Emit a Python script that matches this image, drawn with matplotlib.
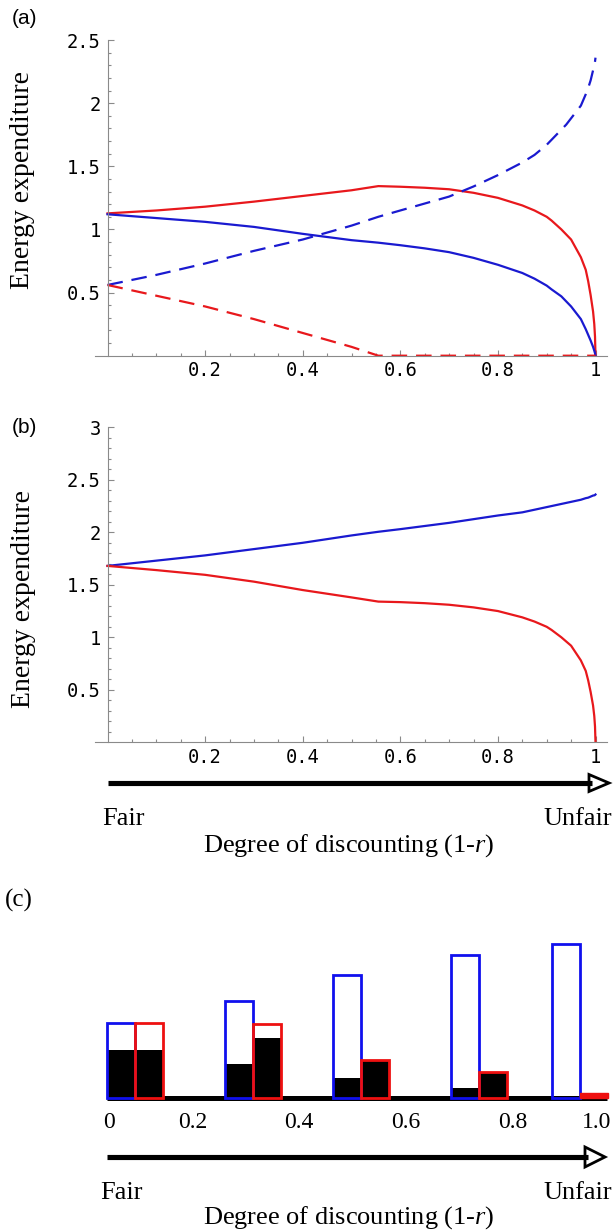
import numpy as np
import matplotlib
matplotlib.use("Agg")
import matplotlib.pyplot as plt
import matplotlib.transforms as mtransforms
from matplotlib.lines import Line2D
from matplotlib.patches import Polygon

plt.rcParams['mathtext.fontset'] = 'custom'
plt.rcParams['mathtext.rm'] = 'Liberation Serif'
plt.rcParams['mathtext.it'] = 'Liberation Serif:italic'

# ---------------- data ----------------
x = [0, 0.1, 0.2, 0.3, 0.4, 0.5, 0.555, 0.6, 0.65, 0.7, 0.75, 0.8, 0.85, 0.875,
     0.9, 0.91, 0.93, 0.94, 0.95, 0.96, 0.97, 0.98, 0.985, 0.99, 0.995, 0.9975,
     0.999, 1.0]

# panel (a)
a_red_solid = [1.127, 1.15, 1.18, 1.22, 1.265, 1.31, 1.343, 1.338, 1.33, 1.318, 1.29,
               1.25, 1.19, 1.15, 1.10, 1.07, 1.00, 0.96, 0.92, 0.85, 0.78, 0.68,
               0.59, 0.48, 0.35, 0.25, 0.15, 0.0]
a_blue_solid = [1.12, 1.09, 1.06, 1.02, 0.965, 0.915, 0.895, 0.875, 0.85, 0.82, 0.775,
                0.72, 0.655, 0.61, 0.555, 0.525, 0.47, 0.43, 0.39, 0.34, 0.29, 0.21,
                0.165, 0.12, 0.07, 0.04, 0.02, 0.0]
a_blue_dashed = [0.56, 0.64, 0.73, 0.83, 0.92, 1.03, 1.10, 1.15, 1.205, 1.26, 1.34,
                 1.43, 1.53, 1.59, 1.67, 1.71, 1.79, 1.83, 1.88, 1.93, 1.98, 2.07,
                 2.12, 2.18, 2.26, 2.30, 2.33, 2.36]
a_red_dashed = [0.56, 0.475, 0.39, 0.29, 0.18, 0.07, 0.0, 0.0, 0.0, 0.0, 0.0,
                0.0, 0.0, 0.0, 0.0, 0.0, 0.0, 0.0, 0.0, 0.0, 0.0, 0.0,
                0.0, 0.0, 0.0, 0.0, 0.0, 0.0]

# panel (b)
b_blue = [1.68, 1.73, 1.78, 1.84, 1.90, 1.97, 2.005, 2.03, 2.06, 2.09, 2.125,
          2.16, 2.19, 2.215, 2.24, 2.25, 2.27, 2.28, 2.29, 2.30, 2.31, 2.325,
          2.33, 2.34, 2.35, 2.352, 2.355, 2.36]
b_red = [1.68, 1.64, 1.595, 1.53, 1.45, 1.38, 1.34, 1.335, 1.325, 1.31, 1.285,
         1.25, 1.19, 1.15, 1.10, 1.07, 1.00, 0.96, 0.92, 0.85, 0.78, 0.68,
         0.59, 0.48, 0.35, 0.25, 0.15, 0.0]

ab_xticks = [0.2, 0.4, 0.6, 0.8, 1.0]
ab_xticklabels = ['0.2', '0.4', '0.6', '0.8', '1']
a_yticks = [0.5, 1, 1.5, 2, 2.5]
a_yticklabels = ['0.5', '1', '1.5', '2', '2.5']
b_yticks = [0.5, 1, 1.5, 2, 2.5, 3]
b_yticklabels = ['0.5', '1', '1.5', '2', '2.5', '3']

# panel (c)
c_group_x = [0.0, 0.235, 0.452, 0.687, 0.89]
c_blue_total = [1.69, 2.19, 2.77, 3.22, 3.47]
c_blue_black = [1.08, 0.77, 0.45, 0.23, 0.05]
c_red_total = [1.69, 1.67, 0.86, 0.59, 0.11]
c_red_black = [1.08, 1.35, 0.86, 0.59, 0.0]
c_tick_pos = [0.003, 0.171, 0.384, 0.598, 0.812, 0.98]
c_tick_labels = ['0', '0.2', '0.4', '0.6', '0.8', '1.0']

# ---------------- figure ----------------
W, H = 615, 1232
fig = plt.figure(figsize=(W / 100, H / 100), dpi=100)
fig.patch.set_facecolor('white')


def fx(px):
    return px / W


def fy(py):
    return 1 - py / H


RED = '#e8181c'
BLUE = '#1a1ad0'
AXC = '#8a8a8a'
SERIF = 'Liberation Serif'
MONO = 'DejaVu Sans Mono'

x0px, x1px = 107.5, 595.5
ppu = x1px - x0px
left_px, right_px = 95, 607
xlim = ((left_px - x0px) / ppu, (right_px - x0px) / ppu)


def style_axes(ax, yt, ytl):
    for s in ['top', 'right']:
        ax.spines[s].set_visible(False)
    ax.spines['left'].set_position(('data', 0))
    for s in ['left', 'bottom']:
        ax.spines[s].set_color(AXC)
        ax.spines[s].set_linewidth(0.8)
    ax.set_xlim(*xlim)
    ax.set_xticks(ab_xticks)
    ax.set_xticklabels(ab_xticklabels)
    ax.set_xticks(np.arange(0.05, 1.0001, 0.05), minor=True)
    ax.set_yticks(yt)
    ax.set_yticklabels(ytl)
    ax.set_yticks(np.arange(0.1, yt[-1] + 0.001, 0.1), minor=True)
    ax.tick_params(which='both', direction='in', color=AXC, width=0.8)
    ax.tick_params(which='major', length=4.5)
    ax.tick_params(which='minor', length=2.5)
    ax.tick_params(axis='x', pad=4)
    ax.tick_params(axis='y', pad=5)
    for lab in ax.get_xticklabels() + ax.get_yticklabels():
        lab.set_fontfamily(MONO)
        lab.set_fontsize(13.5)
    ax.patch.set_alpha(0)


# panel (a)
ax_a = fig.add_axes([fx(left_px), fy(355.7), (right_px - left_px) / W, (355.7 - 40) / H])
ax_a.plot(x, a_red_solid, color=RED, lw=1.6)
ax_a.plot(x, a_blue_solid, color=BLUE, lw=1.6)
ax_a.plot(x, a_blue_dashed, color=BLUE, lw=1.6, dashes=(7, 4))
ax_a.plot(x, a_red_dashed, color=RED, lw=1.6, dashes=(7, 4))
ax_a.set_ylim(0, 2.5)
style_axes(ax_a, a_yticks, a_yticklabels)

# panel (b)
ax_b = fig.add_axes([fx(left_px), fy(742.3), (right_px - left_px) / W, (742.3 - 427.3) / H])
ax_b.plot(x, b_blue, color=BLUE, lw=1.6)
ax_b.plot(x, b_red, color=RED, lw=1.6)
ax_b.set_ylim(0, 3)
style_axes(ax_b, b_yticks, b_yticklabels)

# panel labels and y labels
fig.text(fx(12), fy(19), '(a)', family='Liberation Sans', fontsize=15, ha='left', va='center')
fig.text(fx(12), fy(427), '(b)', family='Liberation Sans', fontsize=15, ha='left', va='center')
fig.text(fx(5), fy(900), '(c)', family=SERIF, fontsize=18, ha='left', va='center')
fig.text(fx(23), fy(180), 'Energy expenditure', family=SERIF, fontsize=20,
         rotation=90, ha='center', va='center')
fig.text(fx(24), fy(599), 'Energy expenditure', family=SERIF, fontsize=20,
         rotation=90, ha='center', va='center')


def fair_arrow(y, xs, head_l, head_tip, head_h):
    fig.add_artist(Line2D([fx(xs), fx(head_l + 3)], [fy(y), fy(y)], color='black',
                          lw=3.7, solid_capstyle='butt', transform=fig.transFigure))
    fig.add_artist(Polygon([[fx(head_l), fy(y - head_h)], [fx(head_l), fy(y + head_h)],
                            [fx(head_tip), fy(y)]], closed=True, facecolor='white',
                           edgecolor='black', lw=2, joinstyle='miter',
                           transform=fig.transFigure))


label_text = r'Degree of discounting (1-$\mathit{r}$)'

fair_arrow(783, 108, 589, 609, 8.5)
fig.text(fx(102), fy(819), 'Fair', family=SERIF, fontsize=19, ha='left', va='center')
fig.text(fx(612), fy(819), 'Unfair', family=SERIF, fontsize=19, ha='right', va='center')
fig.text(fx(349), fy(846), label_text, family=SERIF, fontsize=19, ha='center', va='center')

# panel (c)
ax_c = fig.add_axes([fx(107), fy(1098), 500 / W, 177.5 / H])
ax_c.set_xlim(0, 1)
ax_c.set_ylim(0, 4)
ax_c.axis('off')
bw = 0.056
ax_c.plot([0, 1], [0, 0], color='black', lw=3.6, solid_capstyle='butt', zorder=1, clip_on=False)
for g, bt, bb, rt, rb in zip(c_group_x, c_blue_total, c_blue_black, c_red_total, c_red_black):
    # blue bar
    ax_c.bar(g, bb, width=bw, align='edge', color='black', lw=0, zorder=2, clip_on=False)
    ax_c.bar(g, bt, width=bw, align='edge', facecolor='none', edgecolor='#1010ee',
             lw=2, zorder=3, clip_on=False)
    # red bar
    if rb > 0:
        ax_c.bar(g + bw, rb, width=bw, align='edge', color='black', lw=0, zorder=2, clip_on=False)
        ax_c.bar(g + bw, rt, width=bw, align='edge', facecolor='none', edgecolor='#ee1010',
                 lw=2, zorder=3, clip_on=False)
    else:
        ax_c.bar(g + bw, rt, width=bw, align='edge', facecolor='#ee1010', edgecolor='#ee1010',
                 lw=1, zorder=3, clip_on=False)

tick_tr = mtransforms.blended_transform_factory(ax_c.transData, fig.transFigure)
for p, t in zip(c_tick_pos, c_tick_labels):
    ax_c.text(p, fy(1122), t, transform=tick_tr, family=SERIF, fontsize=17,
              ha='center', va='center')

fair_arrow(1157, 107, 585, 605, 10)
fig.text(fx(100), fy(1193), 'Fair', family=SERIF, fontsize=19, ha='left', va='center')
fig.text(fx(612), fy(1193), 'Unfair', family=SERIF, fontsize=19, ha='right', va='center')
fig.text(fx(349), fy(1218), label_text, family=SERIF, fontsize=19, ha='center', va='center')

fig.savefig('out.png', dpi=100, facecolor='white')
